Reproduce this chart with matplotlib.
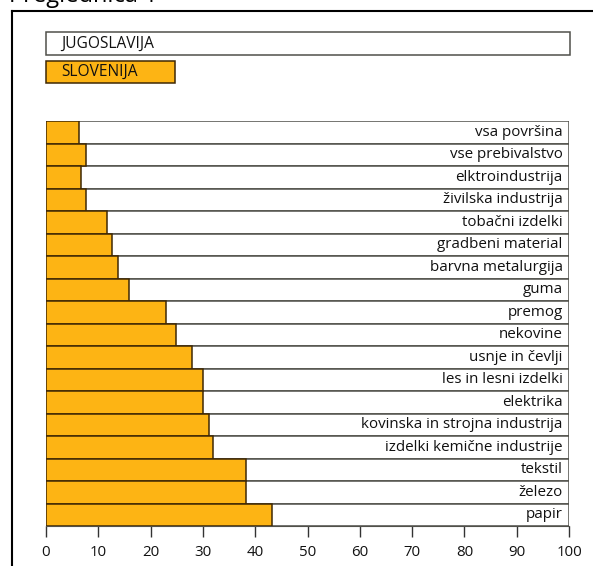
import matplotlib
matplotlib.use("Agg")
import matplotlib.pyplot as plt
from matplotlib.patches import Rectangle
from matplotlib.lines import Line2D

plt.rcParams['font.family'] = ['Open Sans', 'DejaVu Sans']

categories = ["vsa površina", "vse prebivalstvo", "elktroindustrija", "živilska industrija",
              "tobačni izdelki", "gradbeni material", "barvna metalurgija", "guma",
              "premog", "nekovine", "usnje in čevlji", "les in lesni izdelki",
              "elektrika", "kovinska in strojna industrija", "izdelki kemične industrije",
              "tekstil", "železo", "papir"]
jugoslavija = [100] * 18
slovenija = [6.3, 7.6, 6.6, 7.6, 11.6, 12.6, 13.7, 15.9, 22.9, 24.9,
             27.9, 30.1, 30.1, 31.2, 32.0, 38.3, 38.3, 43.3]
xticks = [0, 10, 20, 30, 40, 50, 60, 70, 80, 90, 100]
legend_labels = ["JUGOSLAVIJA", "SLOVENIJA"]
title = "Preglednica 1"

W, H = 593, 566
fig = plt.figure(figsize=(W / 100, H / 100), dpi=100)

def fx(px):
    return px / W

def fy(py):
    return 1 - py / H

orange = "#FDB414"
dark_edge = "#3f2804"
grey_edge = "#50504a"
txt_col = "#111111"

ax = fig.add_axes([fx(46), fy(526), fx(569) - fx(46), fy(121) - fy(526)])
y = list(range(len(categories)))
ax.barh(y, jugoslavija, height=1.0, color="white", edgecolor=grey_edge, linewidth=1.1)
ax.barh(y, slovenija, height=1.0, color=orange, edgecolor=dark_edge, linewidth=1.1)
for i, c in enumerate(categories):
    ax.text(98.8, i, c, ha="right", va="center", fontsize=10.9, color=txt_col)
ax.set_xlim(0, 100)
ax.set_ylim(len(categories) - 0.5, -0.5)
ax.set_xticks(xticks)
ax.set_xticklabels([str(t) for t in xticks], fontsize=10.8, color=txt_col)
ax.set_yticks([])
for s in ["top", "right", "left"]:
    ax.spines[s].set_visible(False)
ax.spines["bottom"].set_color(grey_edge)
ax.tick_params(axis="x", direction="out", length=8, width=1, color="#333333", pad=6)

# legend boxes
fig.patches.append(Rectangle((fx(46), fy(55)), fx(570) - fx(46), fy(32) - fy(55),
                             transform=fig.transFigure, facecolor="white",
                             edgecolor=grey_edge, linewidth=1.1))
fig.patches.append(Rectangle((fx(46), fy(83)), fx(175) - fx(46), fy(61) - fy(83),
                             transform=fig.transFigure, facecolor=orange,
                             edgecolor=dark_edge, linewidth=1.1))
fig.text(fx(61), fy(44), legend_labels[0], ha="left", va="center", fontsize=11.2, color=txt_col)
fig.text(fx(61), fy(72), legend_labels[1], ha="left", va="center", fontsize=11.2, color=txt_col)

# frame
fig.add_artist(Line2D([fx(12), 1.0], [fy(10.5), fy(10.5)], transform=fig.transFigure,
                      color="black", linewidth=1.5))
fig.add_artist(Line2D([fx(12), fx(12)], [fy(10.5), 0.0], transform=fig.transFigure,
                      color="black", linewidth=1.5))
fig.text(fx(9), fy(2), title, ha="left", va="baseline", fontsize=17, color="black")

fig.savefig("out.png", dpi=100)
